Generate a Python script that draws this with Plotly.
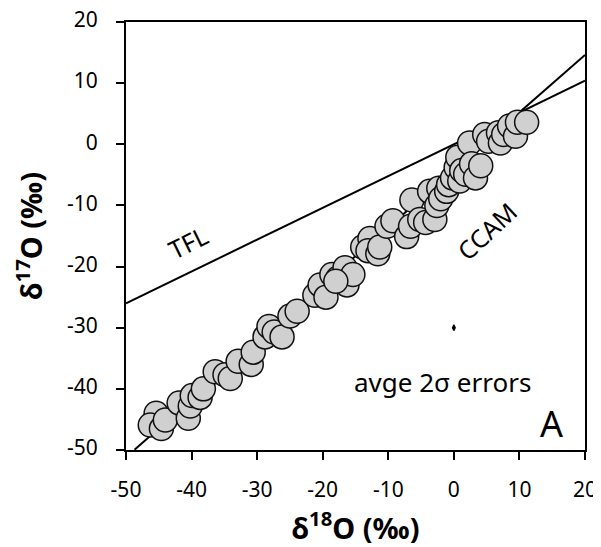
import plotly.graph_objects as go

# Data: delta18O, delta17O (per mil)
d18O = [-45.4, -46.3, -44.6, -44.0, -41.9, -40.5, -40.2, -39.9, -38.7, -38.2,
        -36.4, -34.9, -34.1, -32.9, -30.9, -30.6, -28.8, -28.2, -27.4, -26.2,
        -25.0, -23.9, -21.2, -20.4, -19.5, -18.6, -17.7, -16.6, -16.3, -15.4,
        -18.0, -13.9, -12.8, -13.1, -11.6, -11.3, -10.2, -9.3, -7.2, -6.6,
        -6.4, -5.2, -4.3, -3.7, -2.9, -2.6, -2.3, -2.0, -1.1, -0.8,
        -0.2, 0.35, 0.6, 0.9, 1.2, 1.8, 2.4, 2.7, 3.3, 4.1,
        4.7, 5.3, 6.8, 7.1, 7.6, 8.5, 9.4, 9.7, 11.1]
d17O = [-44.0, -45.9, -46.5, -45.1, -42.3, -44.8, -42.8, -41.1, -41.4, -40.0,
        -37.2, -37.7, -38.3, -35.5, -36.0, -34.0, -31.5, -29.8, -30.7, -31.5,
        -28.1, -27.3, -24.7, -23.0, -25.0, -21.3, -21.9, -20.2, -23.0, -21.3,
        -22.4, -16.8, -15.4, -17.4, -17.9, -16.8, -13.4, -12.5, -15.1, -13.4,
        -9.1, -12.3, -12.8, -7.7, -12.3, -10.0, -7.2, -8.9, -7.7, -6.6,
        -5.5, -3.8, -2.1, -6.0, -4.3, -4.9, 0.2, -3.2, -5.5, -3.5,
        1.6, 0.5, 1.9, 0.2, 1.6, 3.0, 1.3, 3.6, 3.6]

# Reference lines
tfl_x = [-50, 20]
tfl_slope = 0.52
ccam_x = [-48.7, 20]
ccam_slope = 0.94
ccam_icpt = -4.18

# Average 2-sigma error
err_x = [0.0]
err_y = [-30.0]
err_y_2s = [0.5]
err_x_2s = [0.1]

# Tick labels (hyphen-minus as in the original)
tick_vals = [-50, -40, -30, -20, -10, 0, 10, 20]
tick_text = ["-50", "-40", "-30", "-20", "-10", "0", "10", "20"]

FONT = "'Noto Sans', 'Open Sans', 'DejaVu Sans', sans-serif"

fig = go.Figure()
fig.add_trace(go.Scatter(x=tfl_x, y=[tfl_slope * v for v in tfl_x], mode="lines",
                         line=dict(color="black", width=2), showlegend=False))
fig.add_trace(go.Scatter(x=ccam_x, y=[ccam_slope * v + ccam_icpt for v in ccam_x], mode="lines",
                         line=dict(color="black", width=2), showlegend=False))
fig.add_trace(go.Scatter(x=d18O, y=d17O, mode="markers",
                         marker=dict(size=24, color="#D0D0D0", line=dict(color="#111111", width=1.5)),
                         showlegend=False))
fig.add_trace(go.Scatter(x=err_x, y=err_y, mode="markers",
                         marker=dict(size=4, color="black"),
                         error_y=dict(type="data", array=err_y_2s, color="black", thickness=2, width=0),
                         error_x=dict(type="data", array=err_x_2s, color="black", thickness=2, width=0),
                         showlegend=False))

fig.add_annotation(x=-40.5, y=-16.0, text="TFL", showarrow=False, textangle=-26,
                   font=dict(size=25, color="black", family=FONT))
fig.add_annotation(x=5.0, y=-14.2, text="CCAM", showarrow=False, textangle=-43,
                   font=dict(size=25, color="black", family=FONT))
fig.add_annotation(x=-1.7, y=-38.9, text="avge 2σ errors", showarrow=False,
                   font=dict(size=26, color="black", family=FONT))
fig.add_annotation(x=14.9, y=-45.6, text="A", showarrow=False,
                   font=dict(size=36, color="black", family=FONT))

axis_common = dict(showgrid=False, zeroline=False, showline=True, linecolor="black", linewidth=2,
                   mirror=True, ticks="outside", ticklen=8, tickwidth=2, tickcolor="black",
                   tickfont=dict(size=21, color="black", family=FONT),
                   ticklabeloverflow="allow", automargin=False,
                   tickmode="array", tickvals=tick_vals, ticktext=tick_text)

fig.update_layout(
    template="none",
    width=593, height=539,
    margin=dict(l=118, r=16, t=14, b=97, autoexpand=False),
    plot_bgcolor="white", paper_bgcolor="white",
    xaxis=dict(range=[-50, 20], ticklabelstandoff=12,
               title=dict(text="<b>δ<sup>18</sup>O (‰)</b>", font=dict(size=29, color="black", family=FONT), standoff=16),
               **axis_common),
    yaxis=dict(range=[-50, 20], ticklabelstandoff=14, ticklabelshift=-2,
               title=dict(text="<b>δ<sup>17</sup>O (‰)</b>", font=dict(size=29, color="black", family=FONT), standoff=22),
               **axis_common),
)

fig.write_html("out.html")
